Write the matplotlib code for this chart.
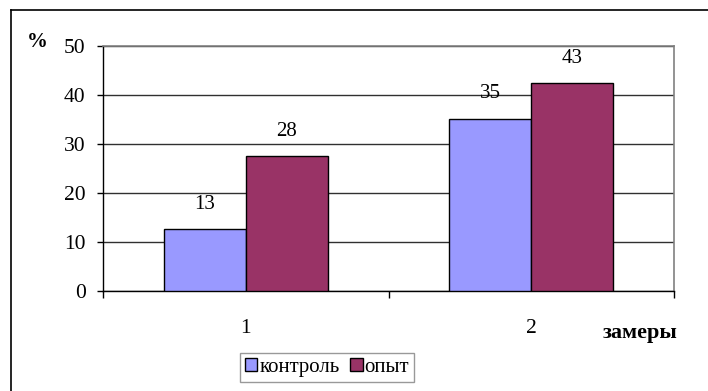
import numpy as np
import matplotlib.pyplot as plt
from matplotlib.lines import Line2D

plt.rcParams['font.family'] = ['Liberation Serif', 'DejaVu Serif']

# данные
categories = ['1', '2']
series_names = ['контроль', 'опыт']
kontrol = [12.6, 35.2]
opyt = [27.5, 42.4]
kontrol_labels = ['13', '35']
opyt_labels = ['28', '43']
colors = ['#9999FF', '#993366']

fig = plt.figure(figsize=(7.08, 3.91), dpi=100)
ax = fig.add_axes([103 / 708, 1 - 291 / 391, 571 / 708, 245 / 391])

x = np.arange(len(categories)) + 0.5
w = 0.287
b1 = ax.bar(x - w / 2, kontrol, w, color=colors[0], edgecolor='black', linewidth=1, zorder=3, label=series_names[0])
b2 = ax.bar(x + w / 2, opyt, w, color=colors[1], edgecolor='black', linewidth=1, zorder=3, label=series_names[1])

for bars, labs in [(b1, kontrol_labels), (b2, opyt_labels)]:
    for r, t in zip(bars, labs):
        ax.annotate(t, (r.get_x() + r.get_width() / 2, r.get_height()), xytext=(0, 11),
                    textcoords='offset points', ha='center', va='bottom', fontsize=15, zorder=2)

ax.set_xlim(0, 2)
ax.set_ylim(0, 50)
ax.set_yticks(range(0, 51, 10))
ax.yaxis.grid(True, color='#303030', linewidth=1, zorder=0)
ax.tick_params(axis='y', direction='out', length=4.5, width=1, labelsize=15.5, pad=8)

# деления на границах категорий, подписи по центру
ax.set_xticks([0, 1, 2])
ax.set_xticklabels([])
ax.set_xticks(x, minor=True)
ax.set_xticklabels(categories, minor=True)
ax.tick_params(axis='x', which='major', direction='out', length=5, width=1)
ax.tick_params(axis='x', which='minor', length=0, labelsize=15.5, pad=20)

for s in ['left', 'bottom']:
    ax.spines[s].set_color('black')
    ax.spines[s].set_linewidth(1)
for s in ['top', 'right']:
    ax.spines[s].set_color('#808080')
    ax.spines[s].set_linewidth(1.2)

fig.text(37 / 708, 1 - 42 / 391, '%', fontsize=15, fontweight='bold', ha='center', va='center')
fig.text(640 / 708, 1 - 333 / 391, 'замеры', fontsize=16, fontweight='bold', ha='center', va='center')

# внешняя рамка
fig.add_artist(Line2D([11 / 708, 11 / 708], [0, 1 - 10 / 391], color='black', linewidth=1.2))
fig.add_artist(Line2D([11 / 708, 1], [1 - 10 / 391, 1 - 10 / 391], color='black', linewidth=1.2))

leg = fig.legend(handles=[b1, b2], labels=series_names, ncol=2, loc='center',
                 bbox_to_anchor=(327 / 708, 1 - 367.5 / 391), fontsize=15, frameon=True,
                 fancybox=False, edgecolor='#808080', handlelength=0.6, handleheight=0.6,
                 handletextpad=0.1, columnspacing=0.5, borderpad=0.25, borderaxespad=0)
leg.get_frame().set_linewidth(1)

fig.savefig('out.png', dpi=100)
